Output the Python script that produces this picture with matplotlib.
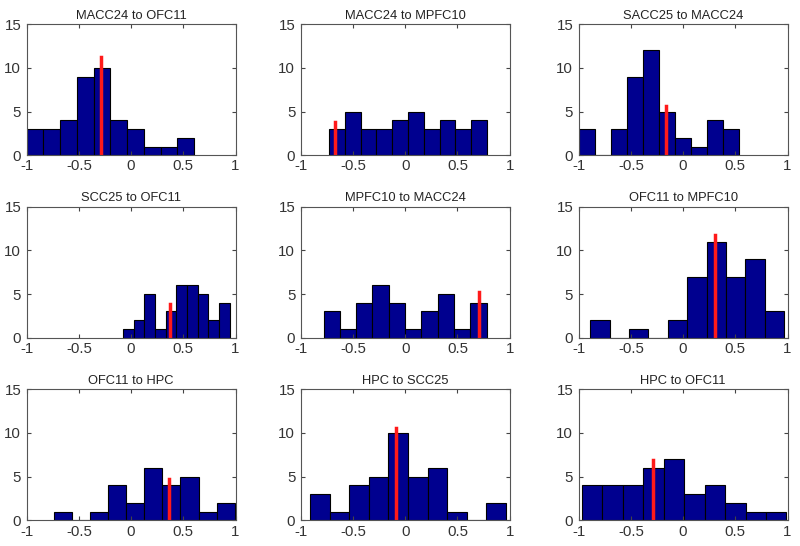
import numpy as np
import matplotlib
matplotlib.use("Agg")
import matplotlib.pyplot as plt

titles = ["MACC24 to OFC11", "MACC24 to MPFC10", "SACC25 to MACC24",
          "SCC25 to OFC11", "MPFC10 to MACC24", "OFC11 to MPFC10",
          "OFC11 to HPC", "HPC to SCC25", "HPC to OFC11"]

bin_lo = [-1.0, -0.730, -1.0, -0.078, -0.782, -0.889, -0.743, -0.908, -0.971]
bin_hi = [0.604, 0.784, 0.540, 0.944, 0.779, 0.968, 0.994, 0.962, 0.990]

counts = [
    [3, 3, 4, 9, 10, 4, 3, 1, 1, 2],
    [3, 5, 3, 3, 4, 5, 3, 4, 3, 4],
    [3, 0, 3, 9, 12, 5, 2, 1, 4, 3],
    [1, 2, 5, 1, 3, 6, 6, 5, 2, 4],
    [3, 1, 4, 6, 4, 1, 3, 5, 1, 4],
    [2, 0, 1, 0, 2, 7, 11, 7, 9, 3],
    [1, 0, 1, 4, 2, 6, 4, 5, 1, 2],
    [3, 1, 4, 5, 10, 5, 6, 1, 0, 2],
    [4, 4, 4, 6, 7, 3, 4, 2, 1, 1],
]

red_x = [-0.289, -0.670, -0.163, 0.370, 0.706, 0.309, 0.360, -0.084, -0.287]
red_top = [11.3, 3.8, 5.65, 3.9, 5.27, 11.7, 4.7, 10.6, 6.9]

xticks = [-1, -0.5, 0, 0.5, 1]
xticklabels = ["-1", "-0.5", "0", "0.5", "1"]
yticks = [0, 5, 10, 15]

plt.rcParams['font.family'] = ['Liberation Sans', 'DejaVu Sans']

fig = plt.figure(figsize=(8, 5.46), dpi=100)
lefts = [0.0334, 0.376, 0.7234]
bottoms = [0.7156, 0.3815, 0.047]
w, h = 0.261, 0.240

for i in range(9):
    r, c = divmod(i, 3)
    ax = fig.add_axes([lefts[c], bottoms[r], w, h])
    edges = np.linspace(bin_lo[i], bin_hi[i], len(counts[i]) + 1)
    ax.bar(edges[:-1], counts[i], width=np.diff(edges), align='edge',
           color='#00008F', edgecolor='black', linewidth=0.8)
    ax.plot([red_x[i], red_x[i]], [0, red_top[i]], color='#FF1A1A', linewidth=2.5)
    ax.set_xlim(-1, 1)
    ax.set_ylim(0, 15)
    ax.set_xticks(xticks)
    ax.set_xticklabels(xticklabels)
    ax.set_yticks(yticks)
    ax.tick_params(direction='in', top=True, right=True, length=3,
                   labelsize=10.8, colors='#444444', labelcolor='#333333')
    ax.tick_params(axis='x', pad=3)
    ax.tick_params(axis='y', pad=4)
    for s in ax.spines.values():
        s.set_color('#555555')
        s.set_linewidth(0.8)
    ax.set_title(titles[i], fontsize=9.3, color='#222222', pad=4)

fig.savefig("out.png", dpi=100)
